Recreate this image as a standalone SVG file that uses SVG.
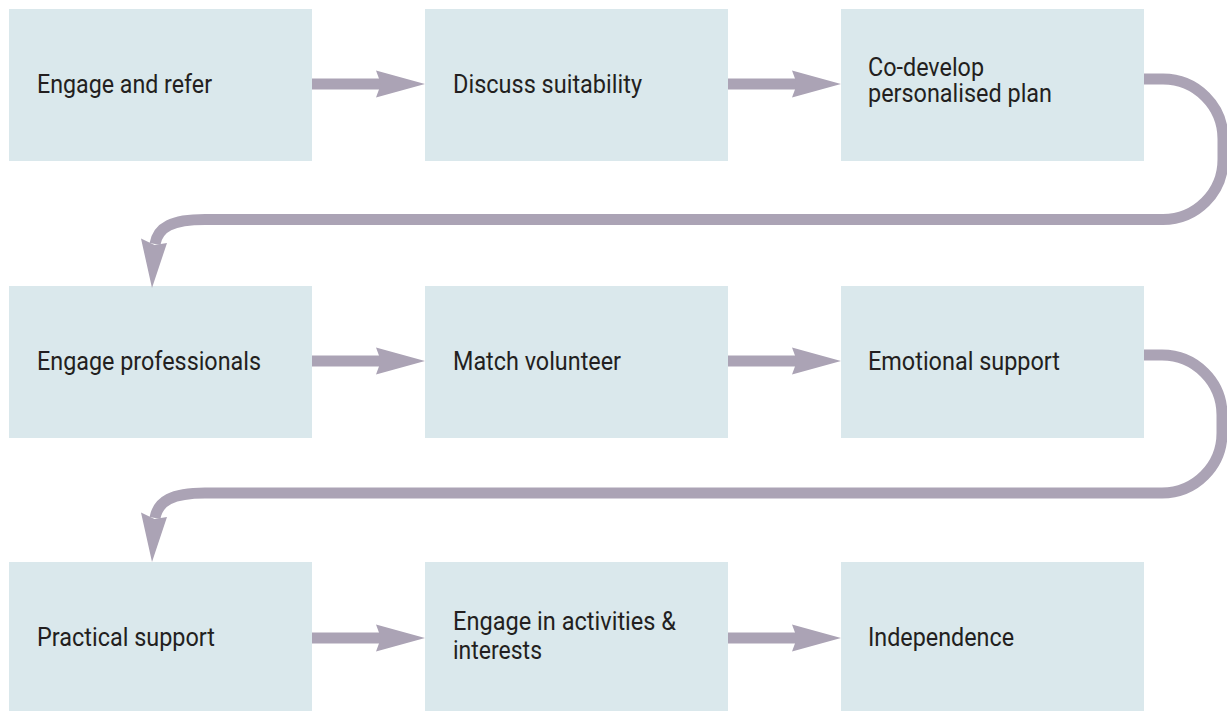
<svg xmlns="http://www.w3.org/2000/svg" width="1227" height="711" viewBox="0 0 1227 711">
  <style>
    .box { fill: #dae8ec; }
    .lbl { font-family: Roboto, "Liberation Sans", sans-serif; font-size: 25px; fill: #231f20; }
    .flow { fill: none; stroke: #aba3b5; stroke-width: 11; }
    .head { fill: #aba3b5; }
  </style>
  <defs>
    <!-- straight step arrow, drawn with its shaft starting at the origin -->
    <g id="step">
      <rect x="0" y="-5.5" width="69" height="11" class="head"/>
      <polygon points="64,-13.5 113,0 64,13.5 69,0" class="head"/>
    </g>
  </defs>

  <rect width="1227" height="711" fill="#ffffff"/>

  <!-- row 1 -->
  <g id="engage-refer">
    <rect class="box" x="9" y="9" width="303" height="152"/>
    <text class="lbl" x="37" y="92.5" textLength="175" lengthAdjust="spacingAndGlyphs">Engage and refer</text>
  </g>
  <g id="discuss-suitability">
    <rect class="box" x="425" y="9" width="303" height="152"/>
    <text class="lbl" x="453" y="92.5" textLength="189" lengthAdjust="spacingAndGlyphs">Discuss suitability</text>
  </g>
  <g id="co-develop-plan">
    <rect class="box" x="841" y="9" width="303" height="152"/>
    <text class="lbl" x="868" y="75.5" textLength="116" lengthAdjust="spacingAndGlyphs">Co-develop</text>
    <text class="lbl" x="868" y="102" textLength="184" lengthAdjust="spacingAndGlyphs">personalised plan</text>
  </g>

  <!-- row 2 -->
  <g id="engage-professionals">
    <rect class="box" x="9" y="286" width="303" height="152"/>
    <text class="lbl" x="37" y="369.5" textLength="224" lengthAdjust="spacingAndGlyphs">Engage professionals</text>
  </g>
  <g id="match-volunteer">
    <rect class="box" x="425" y="286" width="303" height="152"/>
    <text class="lbl" x="453" y="369.5" textLength="168" lengthAdjust="spacingAndGlyphs">Match volunteer</text>
  </g>
  <g id="emotional-support">
    <rect class="box" x="841" y="286" width="303" height="152"/>
    <text class="lbl" x="868" y="369.5" textLength="192" lengthAdjust="spacingAndGlyphs">Emotional support</text>
  </g>

  <!-- row 3 -->
  <g id="practical-support">
    <rect class="box" x="9" y="562" width="303" height="152"/>
    <text class="lbl" x="37" y="645.5" textLength="178" lengthAdjust="spacingAndGlyphs">Practical support</text>
  </g>
  <g id="activities-interests">
    <rect class="box" x="425" y="562" width="303" height="152"/>
    <text class="lbl" x="453" y="630" textLength="223" lengthAdjust="spacingAndGlyphs">Engage in activities &amp;</text>
    <text class="lbl" x="453" y="659" textLength="89" lengthAdjust="spacingAndGlyphs">interests</text>
  </g>
  <g id="independence">
    <rect class="box" x="841" y="562" width="303" height="152"/>
    <text class="lbl" x="868" y="645.5" textLength="146" lengthAdjust="spacingAndGlyphs">Independence</text>
  </g>

  <!-- connectors -->
  <g id="connectors">
    <use href="#step" x="312" y="84"/>
    <use href="#step" x="728" y="84"/>
    <use href="#step" x="312" y="361"/>
    <use href="#step" x="728" y="361"/>
    <use href="#step" x="312" y="638"/>
    <use href="#step" x="728" y="638"/>

    <!-- return from row 1 to row 2 -->
    <path class="flow" d="M1144,79 H1163 A60,60 0 0 1 1223,139 V159.5 A60,60 0 0 1 1163,219.5 H205 C172,219.5 158,227 155,244"/>
    <polygon class="head" points="141,238.5 154.5,245 167,243 152,288"/>

    <!-- return from row 2 to row 3 -->
    <path class="flow" d="M1144,355 H1162 A60,60 0 0 1 1222,415 V433 A60,60 0 0 1 1162,493 H205 C172,493 158,501 155,518"/>
    <polygon class="head" points="141,512.5 154.5,519 167,517 152,562"/>
  </g>
</svg>
